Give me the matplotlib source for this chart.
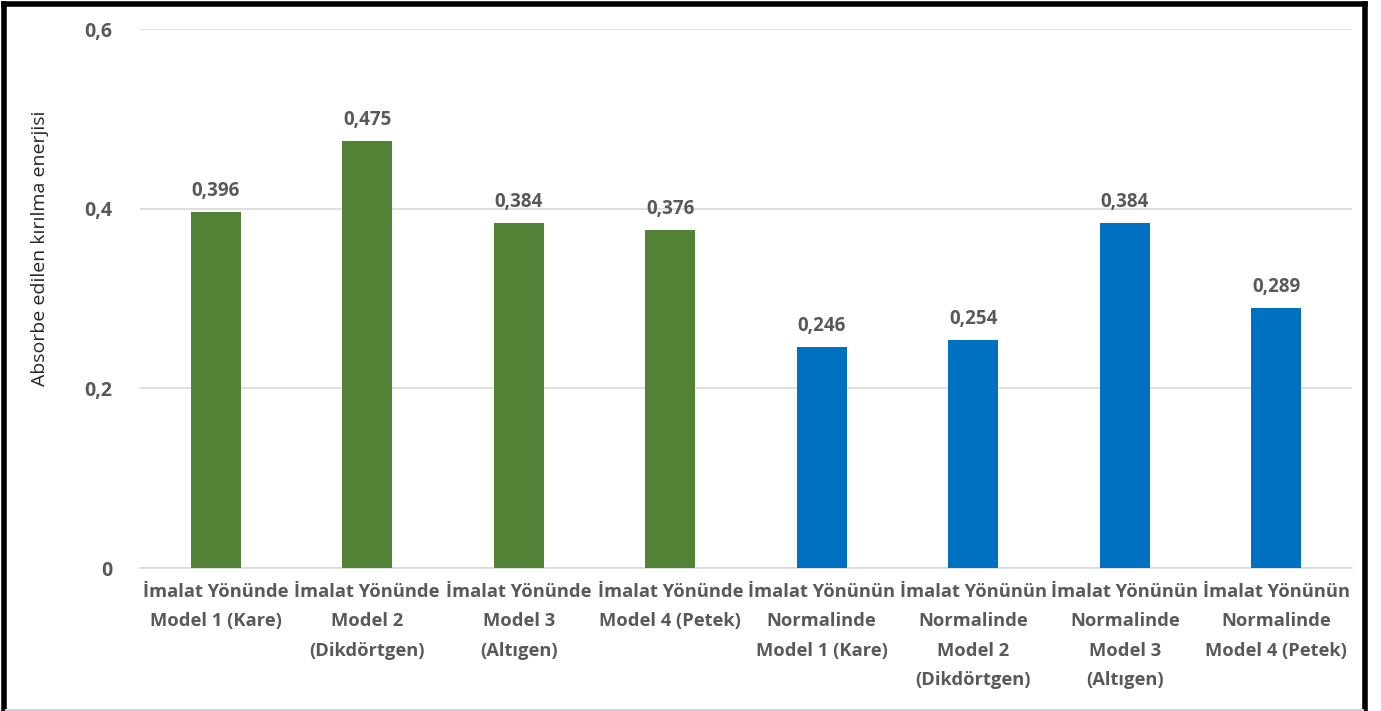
import matplotlib.pyplot as plt

# absorbed fracture energy per specimen
categories = [
    "İmalat Yönünde\nModel 1 (Kare)",
    "İmalat Yönünde\nModel 2\n(Dikdörtgen)",
    "İmalat Yönünde\nModel 3\n(Altıgen)",
    "İmalat Yönünde\nModel 4 (Petek)",
    "İmalat Yönünün\nNormalinde\nModel 1 (Kare)",
    "İmalat Yönünün\nNormalinde\nModel 2\n(Dikdörtgen)",
    "İmalat Yönünün\nNormalinde\nModel 3\n(Altıgen)",
    "İmalat Yönünün\nNormalinde\nModel 4 (Petek)",
]
values = [0.396, 0.475, 0.384, 0.376, 0.246, 0.254, 0.384, 0.289]
value_labels = ["0,396", "0,475", "0,384", "0,376", "0,246", "0,254", "0,384", "0,289"]
yticks = [0, 0.2, 0.4, 0.6]
ytick_labels = ["0", "0,2", "0,4", "0,6"]

green = "#538135"
blue = "#0070C0"
colors = [green] * 4 + [blue] * 4
text_gray = "#595959"

plt.rcParams['font.family'] = ['Open Sans', 'DejaVu Sans']

fig = plt.figure(figsize=(13.81, 7.11), dpi=100)
ax = fig.add_axes([140 / 1381, 1 - 568 / 711, 1212 / 1381, 539 / 711])

x = range(len(values))
ax.bar(x, values, width=0.33, color=colors, zorder=3)

for xi, v, lab in zip(x, values, value_labels):
    ax.annotate(lab, (xi, v), xytext=(0, 8), textcoords="offset points",
                ha="center", va="bottom", fontsize=13.5, fontweight="bold",
                color=text_gray)

ax.set_xlim(-0.5, len(values) - 0.5)
ax.set_ylim(0, 0.6)
ax.set_yticks(yticks)
ax.set_yticklabels(ytick_labels, fontsize=14, fontweight="bold", color=text_gray)
ax.set_xticks(list(x))
ax.set_xticklabels(categories, fontsize=13.2, fontweight="bold", color=text_gray,
                   linespacing=1.8, va="top")
ax.tick_params(axis="both", length=0)
ax.tick_params(axis="y", pad=20)
ax.tick_params(axis="x", pad=11)

ax.grid(axis="y", color="#d9d9d9", linewidth=1.2, zorder=0)
for side in ["top", "right", "left"]:
    ax.spines[side].set_visible(False)
ax.spines["bottom"].set_color("#d9d9d9")
ax.spines["bottom"].set_linewidth(1.2)

fig.text(40 / 1381, 1 - 248 / 711, "Absorbe edilen kırılma enerjisi",
         rotation=90, ha="center", va="center", fontsize=14, color="#262626")

# outer frame: black on three sides, light line at the bottom
fig.add_artist(plt.Line2D([4 / 1381, 4 / 1381], [0, 1 - 4 / 711],
                          transform=fig.transFigure, color="black", linewidth=4))
fig.add_artist(plt.Line2D([4 / 1381, 1365 / 1381], [1 - 4 / 711, 1 - 4 / 711],
                          transform=fig.transFigure, color="black", linewidth=4))
fig.add_artist(plt.Line2D([1365 / 1381, 1365 / 1381], [0, 1 - 4 / 711],
                          transform=fig.transFigure, color="black", linewidth=4))
fig.add_artist(plt.Line2D([6 / 1381, 1363 / 1381], [1 / 711, 1 / 711],
                          transform=fig.transFigure, color="#d0d0d0", linewidth=1.5))

fig.savefig("out.png", dpi=100)
